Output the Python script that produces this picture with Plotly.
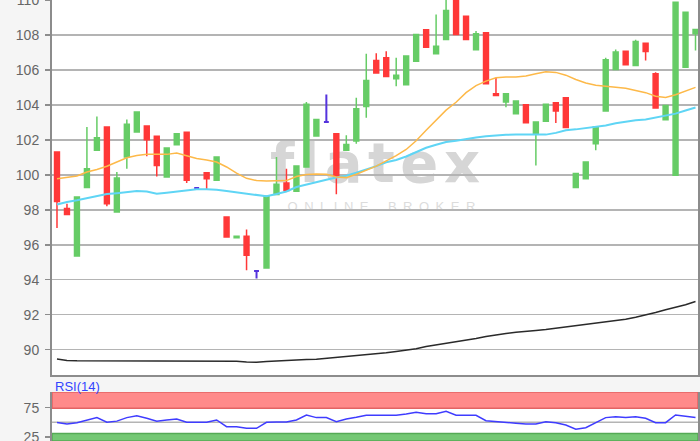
import plotly.graph_objects as go

# ---------------- data ----------------
opens = [101.3, 98.07, 95.36, 99.27, 101.4, 102.73, 97.87, 101.02, 102.45, 102.79,
         102.2, 99.87, 101.72, 102.43, 99.24, 100.12, 99.69, 97.59, 96.4, 96.49,
         94.5, 94.67, 98.87, 99.53, 99.06, 100.45, 102.22, 103.02, 102.35, 101.4,
         101.93, 103.91, 106.54, 106.7, 105.5, 105.15, 106.49, 108.3, 106.93, 107.74,
         110.3, 109.07, 107.15, 108.13, 104.64, 104.16, 103.5, 104.01, 102.35, 103.07,
         104.12, 104.41, 99.27, 99.78, 101.78, 103.65, 106.03, 107.07, 106.26, 107.53,
         105.78, 103.15, 99.97, 106.16, 108.07]
highs = [101.3, 98.35, 98.73, 102.73, 103.34, 102.75, 100.16, 103.17, 103.59, 102.79,
         102.2, 101.53, 102.35, 102.43, 99.24, 100.12, 101.02, 97.59, 96.48, 96.87,
         94.5, 98.77, 101.02, 100.35, 100.5, 104.16, 103.17, 104.6, 102.35, 102.26,
         104.41, 106.93, 106.96, 107.07, 106.7, 106.79, 108.03, 108.3, 109.17, 110.5,
         110.5, 109.07, 108.22, 108.13, 105.55, 104.64, 104.22, 104.01, 103.02, 104.03,
         104.12, 104.41, 100.07, 100.73, 102.73, 106.7, 107.17, 107.07, 107.72, 107.53,
         105.87, 103.97, 109.87, 109.3, 108.31]
lows = [96.96, 97.73, 95.36, 99.27, 101.4, 98.2, 97.87, 100.35, 102.45, 101.06,
        99.91, 99.87, 101.72, 99.53, 99.24, 99.15, 99.69, 96.4, 96.4, 94.54,
        94.07, 94.67, 98.87, 99.11, 99.06, 100.45, 102.22, 103.02, 98.89, 101.4,
        101.78, 103.27, 105.82, 105.63, 105.06, 105.15, 106.49, 107.3, 106.93, 107.74,
        108.03, 107.74, 107.15, 105.21, 104.54, 103.87, 103.5, 102.98, 100.54, 103.07,
        102.96, 102.7, 99.27, 99.78, 101.4, 103.65, 106.03, 106.3, 106.26, 106.54,
        103.82, 103.15, 99.97, 106.16, 107.11]
closes = [98.47, 97.73, 98.73, 100.35, 102.12, 98.35, 99.82, 102.89, 103.59, 102.01,
          100.54, 101.53, 102.35, 99.69, 99.24, 99.78, 101.02, 96.45, 96.48, 95.4,
          94.5, 98.77, 99.46, 99.11, 100.5, 104.03, 103.17, 103.02, 99.91, 101.74,
          103.78, 105.4, 105.82, 105.63, 105.69, 106.79, 108.03, 107.3, 107.36, 109.4,
          108.03, 107.74, 108.07, 105.21, 104.54, 104.64, 104.22, 102.98, 103.02, 104.03,
          103.65, 102.7, 100.07, 100.73, 102.73, 106.58, 107.02, 106.3, 107.63, 107.06,
          103.82, 103.97, 109.87, 109.3, 108.31]

ma_orange = [99.78, 99.85, 99.93, 100.16, 100.3, 100.49, 100.75, 100.98, 101.1, 101.17,
             101.17, 101.17, 101.25, 101.1, 100.93, 100.85, 100.73, 100.45, 100.1, 99.8,
             99.67, 99.65, 99.67, 99.67, 99.9, 100.02, 100.05, 100.03, 99.88, 99.84,
             100.03, 100.26, 100.5, 100.8, 101.1, 101.45, 101.95, 102.55, 103.1, 103.7,
             104.15, 104.7, 105.1, 105.36, 105.55, 105.6, 105.59, 105.65, 105.78, 105.9,
             105.86, 105.7, 105.45, 105.25, 105.12, 105.07, 105.0, 104.95, 104.82, 104.7,
             104.5, 104.42, 104.58, 104.8, 105.0]
ma_cyan = [98.3, 98.45, 98.55, 98.68, 98.8, 98.9, 98.95, 99.0, 99.07, 99.05,
           98.92, 98.98, 99.05, 99.12, 99.17, 99.17, 99.15, 99.08, 99.0, 98.9,
           98.82, 98.77, 98.9, 99.05, 99.3, 99.45, 99.6, 99.72, 99.85, 99.95,
           100.12, 100.3, 100.5, 100.72, 100.85, 101.05, 101.3, 101.55, 101.72, 101.88,
           101.95, 102.05, 102.14, 102.2, 102.26, 102.29, 102.31, 102.31, 102.33, 102.3,
           102.4, 102.55, 102.6, 102.66, 102.75, 102.82, 102.95, 103.05, 103.12, 103.17,
           103.28, 103.35, 103.5, 103.68, 103.85]
ma_black = [89.46, 89.38, 89.36, 89.36, 89.36, 89.36, 89.36, 89.36, 89.36, 89.36,
            89.36, 89.36, 89.36, 89.36, 89.36, 89.36, 89.36, 89.36, 89.33, 89.29,
            89.28, 89.32, 89.36, 89.4, 89.43, 89.44, 89.45, 89.5, 89.55, 89.6,
            89.65, 89.7, 89.77, 89.82, 89.9, 89.97, 90.05, 90.18, 90.27, 90.33,
            90.43, 90.52, 90.64, 90.75, 90.85, 90.92, 91.0, 91.07, 91.1, 91.15,
            91.22, 91.3, 91.37, 91.45, 91.52, 91.6, 91.67, 91.74, 91.85, 91.97,
            92.12, 92.28, 92.42, 92.57, 92.75]
rsi = [49.5, 47, 49.3, 54, 58, 50, 52, 58, 61, 57,
       52, 54, 55.6, 50, 50, 50, 54, 42.5, 42.5, 39.7,
       39.7, 50, 50.5, 50.5, 54, 62.5, 58, 58, 51, 55.6,
       58.5, 62, 62, 62, 62, 64, 67, 64.7, 64.7, 68.8,
       62, 62, 62, 52.8, 51, 50, 48.3, 47, 47, 51,
       49.3, 45.4, 38, 40.8, 49.3, 58, 59.6, 58, 59.6, 56.8,
       49.3, 49.3, 62.5, 60.8, 58]

price_ticks = [90, 92, 94, 96, 98, 100, 102, 104, 106, 108, 110]
rsi_ticks = [25, 75]
rsi_label = "RSI(14)"
logo_text = "flatex"
logo_sub = "ONLINE BROKER"

# ---------------- styling ----------------
GREEN = "#66cc66"
RED = "#ff3838"
DOJI = "#5533dd"
GRID = "#b4b4b4"
AXIS = "#8c8c8c"
FONT = "Liberation Sans, Arial, sans-serif"

n = len(opens)
idx = list(range(n))
is_doji = [o == c for o, c in zip(opens, closes)]


def keep(arr, mask):
    return [v if m else None for v, m in zip(arr, mask)]


not_doji = [not d for d in is_doji]

fig = go.Figure()

# moving averages (drawn below the candles)
fig.add_trace(go.Scatter(x=idx, y=ma_black, mode="lines",
                         line=dict(color="#2a2a2a", width=1.5), hoverinfo="skip"))
fig.add_trace(go.Scatter(x=idx, y=ma_cyan, mode="lines",
                         line=dict(color="#5fd5f5", width=2), hoverinfo="skip"))
fig.add_trace(go.Scatter(x=idx, y=ma_orange, mode="lines",
                         line=dict(color="#fdb949", width=1.5), hoverinfo="skip"))

fig.add_trace(go.Candlestick(
    x=idx,
    open=keep(opens, not_doji), high=keep(highs, not_doji),
    low=keep(lows, not_doji), close=keep(closes, not_doji),
    increasing=dict(line=dict(color=GREEN, width=1.5), fillcolor=GREEN),
    decreasing=dict(line=dict(color=RED, width=1.5), fillcolor=RED),
    whiskerwidth=0, hoverinfo="skip"))
fig.add_trace(go.Candlestick(
    x=idx,
    open=keep(opens, is_doji), high=keep(highs, is_doji),
    low=keep(lows, is_doji), close=keep(closes, is_doji),
    increasing=dict(line=dict(color=DOJI, width=2), fillcolor=DOJI),
    decreasing=dict(line=dict(color=DOJI, width=2), fillcolor=DOJI),
    whiskerwidth=0, hoverinfo="skip"))

# RSI
fig.add_trace(go.Scatter(x=idx, y=rsi, mode="lines", xaxis="x2", yaxis="y2",
                         line=dict(color="#3f3cff", width=1.5), hoverinfo="skip"))

H = 441
main_bottom = (H - 375) / H
rsi_top = (H - 392) / H

axis_font = dict(family=FONT, size=14, color="#666666")

fig.update_layout(
    width=700, height=H,
    margin=dict(l=52, r=2, t=0, b=0, autoexpand=False),
    paper_bgcolor="#f5f5f5", plot_bgcolor="#ffffff",
    showlegend=False, hovermode=False,
    xaxis=dict(domain=[0, 1], range=[-0.5, 64.25], anchor="y", automargin=False,
               showticklabels=False, showgrid=False, zeroline=False,
               showline=True, linecolor=AXIS, linewidth=2, ticks="",
               rangeslider=dict(visible=False)),
    yaxis=dict(domain=[main_bottom, 1], range=[88.55, 110.0], anchor="x",
               automargin=False, ticklabeloverflow="allow",
               tickvals=price_ticks, ticktext=[str(t) for t in price_ticks],
               showgrid=True, gridcolor=GRID, gridwidth=1.5, zeroline=False,
               showline=True, linecolor=AXIS, linewidth=2, mirror=True,
               ticks="outside", ticklen=5, tickcolor=AXIS, tickwidth=1.5,
               tickfont=axis_font, ticklabelstandoff=3),
    xaxis2=dict(domain=[0, 1], matches="x", anchor="y2", automargin=False,
                showticklabels=False, showgrid=False, zeroline=False,
                showline=False, ticks="", rangeslider=dict(visible=False)),
    yaxis2=dict(domain=[0, rsi_top], range=[18, 101.8], anchor="x2",
                automargin=False, ticklabeloverflow="allow",
                tickvals=rsi_ticks, ticktext=[str(t) for t in rsi_ticks],
                showgrid=False, zeroline=False,
                showline=True, linecolor=AXIS, linewidth=2, mirror=True,
                ticks="outside", ticklen=5, tickcolor=AXIS, tickwidth=1.5,
                tickfont=axis_font, ticklabelstandoff=3),
)

shapes = [
    # overbought / oversold bands and mid line of the RSI panel
    dict(type="rect", xref="x2 domain", yref="y2", x0=0, x1=1, y0=74, y1=101.8,
         fillcolor="#ff8a8a", line=dict(color="#e36363", width=1.5), layer="below"),
    dict(type="rect", xref="x2 domain", yref="y2", x0=0, x1=1, y0=18, y1=31,
         fillcolor="#74c874", line=dict(color="#55aa55", width=1.5), layer="below"),
    dict(type="line", xref="x2 domain", yref="y2", x0=0, x1=1, y0=50, y1=50,
         line=dict(color=GRID, width=1.5), layer="below"),
    # watermark
    dict(type="rect", xref="paper", yref="paper", x0=0.3, x1=0.7, y0=0.58, y1=0.70,
         line=dict(width=0), fillcolor="rgba(0,0,0,0)", layer="below",
         label=dict(text="\u200a".join(logo_text), textposition="middle center",
                    font=dict(family="DejaVu Sans", size=56, color="#d6d6d6",
                              weight="bold"))),
    dict(type="rect", xref="paper", yref="paper", x0=0.3, x1=0.72, y0=0.51, y1=0.56,
         line=dict(width=0), fillcolor="rgba(0,0,0,0)", layer="below",
         label=dict(text="\u2002".join(logo_sub.replace(" ", "\u2002")),
                    textposition="middle center",
                    font=dict(family=FONT, size=13, color="#dcdcdc"))),
]
fig.update_layout(shapes=shapes)

fig.add_annotation(text=rsi_label, xref="paper", yref="paper",
                   x=0, y=(H - 386) / H, xanchor="left", yanchor="middle",
                   showarrow=False, xshift=1,
                   font=dict(family=FONT, size=13, color="#3344ff"))

fig.write_html("out.html",
               config=dict(displayModeBar=False, staticPlot=True),
               post_script="document.body.style.margin='0';"
                           "document.body.style.overflow='hidden';")
